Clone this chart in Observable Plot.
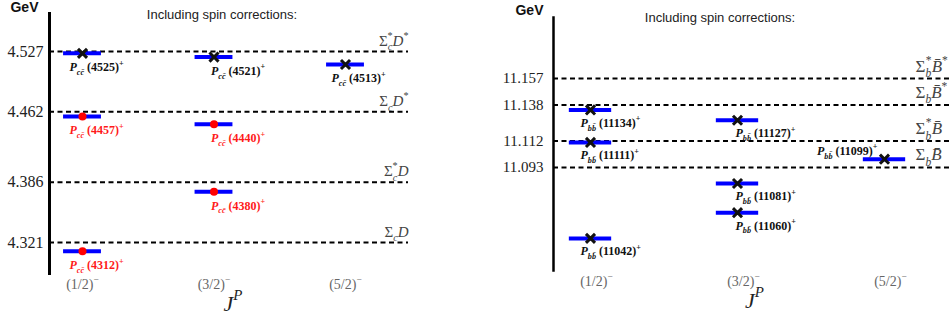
<!DOCTYPE html>
<html><head><meta charset="utf-8">
<script src="https://cdn.jsdelivr.net/npm/d3@7"></script>
<script src="https://cdn.jsdelivr.net/npm/@observablehq/plot@0.6"></script>
<style>
body{margin:0;width:952px;height:322px;overflow:hidden;background:#fff;position:relative}
.panel{position:absolute;top:0;width:476px;height:322px}
#a{left:0}#b{left:476px}
</style></head><body>
<div id="a" class="panel"></div><div id="b" class="panel"></div>
<script>
// ---------- data ----------
const jpLabels = ["(1/2)^{−}", "(3/2)^{−}", "(5/2)^{−}"];
const titleText = "Including spin corrections:";

// charm sector (left)
const ccThresholds = [4.527, 4.462, 4.386, 4.321];
const ccThresholdNames = ["Σ_{c}^{*}~{D}^{*}", "Σ_{c}~{D}^{*}", "Σ_{c}^{*}~{D}", "Σ_{c}~{D}"];
const ccStateJ    = [0, 1, 2, 0, 1, 1, 0];
const ccStateMass = [4.525, 4.521, 4.513, 4.457, 4.4485, 4.3757, 4.3115];
const ccStateName = ["4525", "4521", "4513", "4457", "4440", "4380", "4312"];
const ccStateKind = ["cross", "cross", "cross", "dot", "dot", "dot", "dot"];

// bottom sector (right)
const bbThresholds = [11.157, 11.138, 11.112, 11.093];
const bbThresholdNames = ["Σ_{b}^{*}~{B̄}^{*}", "Σ_{b}~{B̄}^{*}", "Σ_{b}^{*}~{B̄}", "Σ_{b}~{B̄}"];
const bbStateJ    = [0, 0, 0, 1, 1, 1, 2];
const bbStateMass = [11.1344, 11.111, 11.042, 11.127, 11.0815, 11.0605, 11.099];
const bbStateName = ["11134", "11111", "11042", "11127", "11081", "11060", "11099"];
const bbStateKind = ["cross", "cross", "cross", "cross", "cross", "cross", "cross"];

// ---------- helpers ----------
const NS = "http://www.w3.org/2000/svg";
function richify(svg) {
  svg.querySelectorAll("text").forEach(t => {
    const s = t.textContent;
    if (!/[_^~]\{/.test(s)) return;
    const holder = t.closest("[font-size]");
    const base = holder ? parseFloat(holder.getAttribute("font-size")) : 10;
    t.textContent = "";
    let cur = 0, prevSub = null;
    for (const m of s.matchAll(/([_^~])\{([^}]*)\}|([^_^~]+)/g)) {
      const ts = document.createElementNS(NS, "tspan");
      const kind = m[1] || "";
      const txt = m[3] !== undefined ? m[3] : m[2];
      let shift = 0, size = base;
      if (kind === "_") { shift = 0.32 * base; size = 0.68 * base; ts.setAttribute("font-style", "italic"); }
      else if (kind === "^") { shift = -0.46 * base; size = 0.68 * base; if (prevSub) ts.setAttribute("dx", -prevSub); }
      else if (kind === "~") ts.setAttribute("font-style", "italic");
      ts.setAttribute("dy", shift - cur); cur = shift;
      ts.setAttribute("font-size", size);
      ts.textContent = txt;
      t.appendChild(ts);
      prevSub = kind === "_" ? txt.replace(/\p{M}/gu, "").length * size * 0.46 : null;
    }
  });
  return svg;
}
const SERIF = "Liberation Serif";
const SANS = "Liberation Sans";
const HW = 0.144; // half bar width, in column units

function panel(cfg) {
  const states = cfg.mass.map((m, i) => ({j: cfg.J[i], m, name: cfg.names[i], kind: cfg.kinds[i]}));
  const labelText = d => `~{P}_{${cfg.q}${cfg.q}\u0304} (${d.name})^{+}`;
  const labelMarks = [];
  for (let c = 0; c < 3; c++) {
    const below = states.filter(d => d.j === c && !cfg.above.includes(d.name));
    const above = states.filter(d => d.j === c && cfg.above.includes(d.name));
    labelMarks.push(Plot.text(below, {x: "j", y: "m", text: labelText, textAnchor: "start",
      dx: cfg.labelDx[c], dy: cfg.labelDy, lineAnchor: "middle",
      fontSize: 12, fontWeight: "bold", fontFamily: SERIF, fill: d => cfg.color(d)}));
    labelMarks.push(Plot.text(above, {x: "j", y: "m", text: labelText, textAnchor: "end",
      dx: -7, dy: -8, lineAnchor: "middle",
      fontSize: 12, fontWeight: "bold", fontFamily: SERIF, fill: d => cfg.color(d)}));
  }
  const svg = Plot.plot({
    width: 476, height: 322,
    marginLeft: cfg.ml, marginRight: cfg.mr, marginTop: cfg.mt, marginBottom: cfg.mb,
    x: {domain: [0, 2], range: cfg.xr, axis: null},
    y: {domain: cfg.yd, axis: null},
    style: {background: "white", overflow: "visible"},
    marks: [
      Plot.ruleY(cfg.th, {y: d => d, stroke: "black", strokeWidth: 2, strokeDasharray: "5,3.5"}),
      Plot.frame({anchor: "left", stroke: "black", strokeWidth: cfg.axisW}),
      Plot.text(cfg.th, {y: d => d, text: d => d.toFixed(3), frameAnchor: "left", textAnchor: "end",
        dx: -cfg.tickPad, lineAnchor: "middle", fontSize: cfg.tickFs, fontFamily: SERIF, fill: "#222"}),
      Plot.text(cfg.th, {y: d => d, text: (d, i) => cfg.thNames[i], frameAnchor: "right",
        textAnchor: cfg.thAnchor, dx: cfg.thDx, dy: cfg.thDy, lineAnchor: "bottom",
        fontSize: cfg.thFs, fontFamily: SERIF, fill: "#444"}),
      Plot.ruleY(states, {y: "m", x1: d => d.j - HW, x2: d => d.j + HW, stroke: "#0000ff", strokeWidth: 4}),
      Plot.dot(states.filter(d => d.kind === "cross"), {x: "j", y: "m", symbol: "times", r: 4.2, stroke: "#111", strokeWidth: 3}),
      Plot.dot(states.filter(d => d.kind === "dot"), {x: "j", y: "m", r: 4, fill: "#ff0000", stroke: "none"}),
      ...labelMarks,
      Plot.text(jpLabels, {x: (d, i) => i, text: d => d, frameAnchor: "bottom", dx: cfg.jpDx, dy: 11,
        lineAnchor: "middle", fontSize: 14, fontFamily: SERIF, fill: "#666"}),
      Plot.text(["J^{P}"], {x: () => 1, text: d => d, frameAnchor: "bottom", dx: cfg.jDx, dy: 30,
        lineAnchor: "middle", fontSize: 22, fontStyle: "italic", fontFamily: SERIF, fill: "#222"}),
      Plot.text(["GeV"], {frameAnchor: "top-left", textAnchor: "end", dx: cfg.gevDx, dy: cfg.gevDy,
        lineAnchor: "middle", fontSize: 14, fontWeight: "bold", fontFamily: SANS, fill: "#111"}),
      Plot.text([titleText], {frameAnchor: "top", dx: cfg.titleDx, dy: cfg.titleDy,
        lineAnchor: "middle", fontSize: 13, fontFamily: SANS, fill: "#222"})
    ]
  });
  return richify(svg);
}

document.getElementById("a").append(panel({
  th: ccThresholds, thNames: ccThresholdNames, J: ccStateJ, mass: ccStateMass, names: ccStateName, kinds: ccStateKind,
  q: "c", color: d => d.kind === "dot" ? "#ff1a1a" : "#111", above: [],
  ml: 49, mr: 68, mt: 13, mb: 49, xr: [82, 345], yd: [4.2876, 4.568],
  axisW: 3, tickPad: 6, tickFs: 16, thFs: 15, thAnchor: "end", thDx: 0, thDy: -6,
  labelDx: [-13, -3, -14], labelDy: 14, jpDx: 0, jDx: 19,
  gevDx: -11, gevDy: -6, titleDx: -7, titleDy: 1
}));
document.getElementById("b").append(panel({
  th: bbThresholds, thNames: bbThresholdNames, J: bbStateJ, mass: bbStateMass, names: bbStateName, kinds: bbStateKind,
  q: "b", color: () => "#111", above: ["11099"],
  ml: 77, mr: 0, mt: 17, mb: 52, xr: [114, 408], yd: [11.0189, 11.2009],
  axisW: 2.5, tickPad: 10, tickFs: 15, thFs: 17, thAnchor: "start", thDx: -37, thDy: -7,
  labelDx: [-10, -2, -6], labelDy: 13, jpDx: 6, jDx: 17,
  gevDx: -10, gevDy: -7, titleDx: -33, titleDy: 0
}));
</script>
</body></html>
